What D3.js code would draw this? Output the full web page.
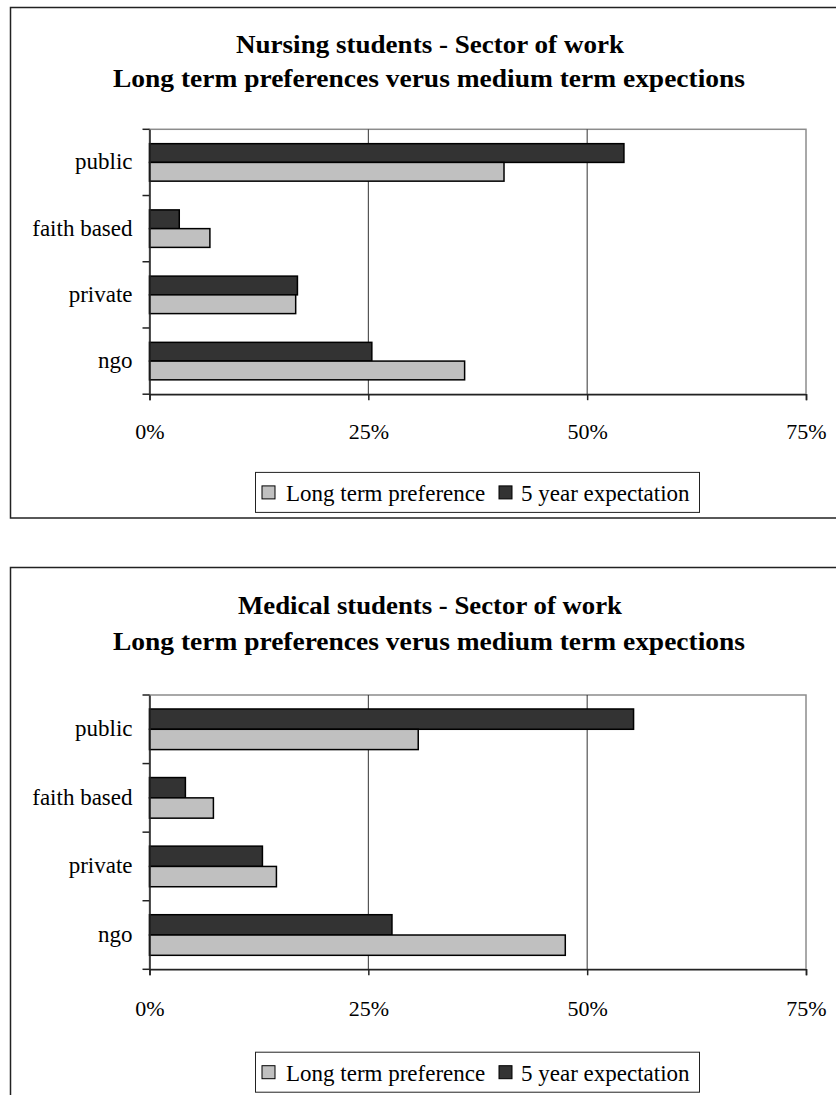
<!DOCTYPE html>
<html>
<head>
<meta charset="utf-8">
<script src="https://cdn.jsdelivr.net/npm/d3@7"></script>
<style>
  body { margin: 0; background: #fff; }
  svg text { font-family: "Liberation Serif", "DejaVu Serif", serif; fill: #000; }
</style>
</head>
<body>
<svg id="chart" width="836" height="1095"></svg>
<script>
// values, percent
const categories = ["public", "faith based", "private", "ngo"];
const seriesNames = ["Long term preference", "5 year expectation"];
const nursingLongTerm = [40.5, 6.9, 16.7, 36.0];
const nursingFiveYear = [54.2, 3.4, 16.9, 25.4];
const medicalLongTerm = [30.7, 7.3, 14.5, 47.5];
const medicalFiveYear = [55.3, 4.1, 12.9, 27.7];
const xTicks = [0, 25, 50, 75];
const titleLine2 = "Long term preferences verus medium term expections";

const lightFill = "#c0c0c0";
const darkFill = "#333333";

const svg = d3.select("#chart");

const drawChart = (cfg) => {
    const g = svg.append("g").attr("class", "chartBlock");

    // outer frame (right edge runs off the page)
    g.append("rect")
        .attr("x", 10.5).attr("y", cfg.top)
        .attr("width", 850).attr("height", cfg.frameHeight)
        .attr("fill", "#fff").attr("stroke", "#222").attr("stroke-width", 1.5);

    g.append("text")
        .attr("x", 430).attr("y", cfg.top + cfg.title1)
        .attr("text-anchor", "middle")
        .style("font-size", "26px").style("font-weight", "bold")
        .attr("textLength", cfg.title1Len).attr("lengthAdjust", "spacingAndGlyphs")
        .text(cfg.title);
    g.append("text")
        .attr("x", 429).attr("y", cfg.top + cfg.title2)
        .attr("text-anchor", "middle")
        .style("font-size", "26px").style("font-weight", "bold")
        .attr("textLength", 632).attr("lengthAdjust", "spacingAndGlyphs")
        .text(titleLine2);

    const plotTop = cfg.top + cfg.plotTop;
    const plotBottom = cfg.top + cfg.plotBottom;

    const x = d3.scaleLinear().domain([0, 75]).range([149.5, 806]);
    const y = d3.scaleBand().domain(categories).range([plotTop, plotBottom]).padding(0);
    const barH = y.bandwidth() * cfg.barFrac;

    // plot area border (grey) and gridlines
    g.append("rect")
        .attr("x", x(0)).attr("y", plotTop)
        .attr("width", x(75) - x(0)).attr("height", plotBottom - plotTop)
        .attr("fill", "none").attr("stroke", "#8c8c8c").attr("stroke-width", 1.5);

    g.selectAll(".grid").data(xTicks.filter(d => d > 0 && d < 75)).join("line")
        .attr("class", "grid")
        .attr("x1", d => x(d)).attr("x2", d => x(d))
        .attr("y1", plotTop).attr("y2", plotBottom)
        .attr("stroke", "#333").attr("stroke-width", 1);

    // bars: 5 year expectation on top, long term preference below
    const rows = categories.map((c, i) => ({ cat: c, lt: cfg.longTerm[i], fy: cfg.fiveYear[i] }));
    const mid = d => y(d.cat) + y.bandwidth() / 2;

    g.selectAll(".barDark").data(rows).join("rect")
        .attr("class", "barDark")
        .attr("x", x(0)).attr("y", d => mid(d) - barH)
        .attr("width", d => x(d.fy) - x(0)).attr("height", barH)
        .attr("fill", darkFill).attr("stroke", "#000").attr("stroke-width", 1.5);

    g.selectAll(".barLight").data(rows).join("rect")
        .attr("class", "barLight")
        .attr("x", x(0)).attr("y", d => mid(d))
        .attr("width", d => x(d.lt) - x(0)).attr("height", barH)
        .attr("fill", lightFill).attr("stroke", "#000").attr("stroke-width", 1.5);

    // category axis
    const yAxis = g.append("g")
        .attr("transform", `translate(${x(0)},0)`)
        .call(d3.axisLeft(y).tickSize(0).tickPadding(17));
    yAxis.select(".domain").attr("stroke", "#222").attr("stroke-width", 1.5);
    yAxis.selectAll("text").style("font-size", "23px").attr("dy", "0.3em");

    const bounds = categories.map(c => y(c)).concat([plotBottom]);
    g.selectAll(".catTick").data(bounds).join("line")
        .attr("class", "catTick")
        .attr("x1", x(0) - 7).attr("x2", x(0))
        .attr("y1", d => d).attr("y2", d => d)
        .attr("stroke", "#222").attr("stroke-width", 1.5);

    // value axis
    const xAxis = g.append("g")
        .attr("transform", `translate(0,${plotBottom})`)
        .call(d3.axisBottom(x).tickValues(xTicks).tickFormat(d => d + "%").tickSize(6));
    xAxis.select(".domain").attr("stroke", "#222").attr("stroke-width", 1.5);
    xAxis.selectAll(".tick line").attr("stroke", "#222").attr("stroke-width", 1.5);
    xAxis.selectAll("text")
        .style("font-size", "22px")
        .attr("y", cfg.tickLabel).attr("dy", "0.35em");

    // legend
    const lg = g.append("g").attr("transform", `translate(255,${cfg.top + cfg.legendTop})`);
    lg.append("rect")
        .attr("x", 0.5).attr("y", 0.5).attr("width", 444).attr("height", 40)
        .attr("fill", "#fff").attr("stroke", "#222").attr("stroke-width", 1);
    const items = [
        { name: seriesNames[0], fill: lightFill, sx: 7, tx: 31 },
        { name: seriesNames[1], fill: darkFill, sx: 244, tx: 266 }
    ];
    lg.selectAll(".sw").data(items).join("rect")
        .attr("class", "sw")
        .attr("x", d => d.sx).attr("y", 14)
        .attr("width", 13).attr("height", 13)
        .attr("fill", d => d.fill).attr("stroke", "#000").attr("stroke-width", 1);
    lg.selectAll(".lt").data(items).join("text")
        .attr("class", "lt")
        .attr("x", d => d.tx).attr("y", 21).attr("dy", "0.35em")
        .style("font-size", "23px")
        .text(d => d.name);
};

drawChart({
    title: "Nursing students - Sector of work", title1Len: 388,
    longTerm: nursingLongTerm, fiveYear: nursingFiveYear,
    top: 7.5, frameHeight: 510.5,
    title1: 45, title2: 79.5, plotTop: 121.8, plotBottom: 386.7,
    barFrac: 0.283, tickLabel: 37.5, legendTop: 464.4
});

drawChart({
    title: "Medical students - Sector of work", title1Len: 384,
    longTerm: medicalLongTerm, fiveYear: medicalFiveYear,
    top: 567.5, frameHeight: 600,
    title1: 46, title2: 82.7, plotTop: 127.5, plotBottom: 401.8,
    barFrac: 0.296, tickLabel: 38.7, legendTop: 484.2
});
</script>
</body>
</html>
